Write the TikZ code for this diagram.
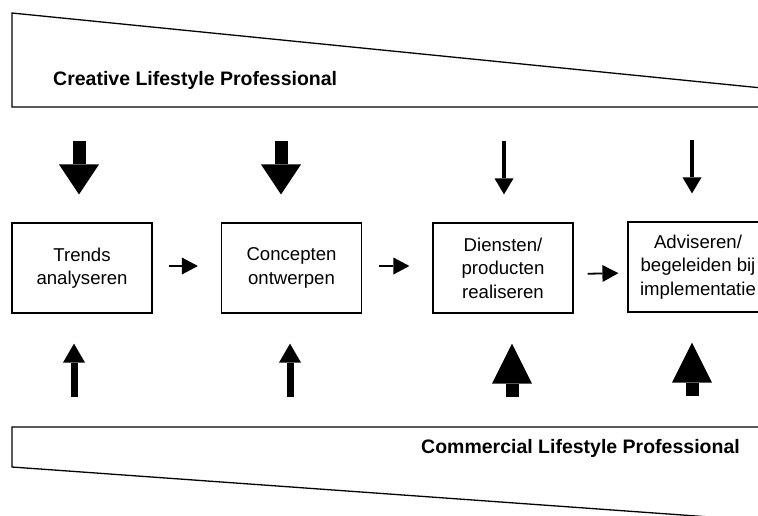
\documentclass[tikz,border=0pt]{standalone}
\usepackage{fontspec}
\setmainfont{Liberation Sans}
\usetikzlibrary{arrows.meta}

\begin{document}
\begin{tikzpicture}[x=1pt,y=-1pt,line join=miter,
    box/.style={draw,line width=1.2pt,minimum width=140pt,minimum height=90pt,inner sep=0pt,align=center,font=\fontsize{18.6}{23.5}\selectfont},
    band/.style={draw,line width=1.3pt},
    title/.style={inner sep=0pt,font=\fontsize{19.5}{22}\selectfont\bfseries},
    flow/.style={-{Triangle[length=16pt,width=17pt,line width=0pt]},line width=1.8pt},
    slim/.style={-{Triangle[length=16pt,width=19pt,line width=0pt]},line width=3.5pt},
    medium/.style={-{Triangle[length=19pt,width=22pt,line width=0pt]},line width=7pt},
    fat/.style={-{Triangle[length=#1,width=40pt,line width=0pt]},line width=13pt}]
  \clip (0,0) rectangle (758,515);

  % bands
  \draw[band] (12,13) -- (780,89.8) -- (780,107) -- (12,107) -- cycle;
  \draw[band] (12,427) -- (780,427) -- (780,522) -- (12,467) -- cycle;
  \node[title,anchor=west] (creative) at (53,80) {Creative Lifestyle Professional};
  \node[title,anchor=east] (commercial) at (740,448) {Commercial Lifestyle Professional};

  % steps
  \node[box] (trends) at (82,268) {Trends\\analyseren};
  \node[box] (concepten) at (291.5,268) {Concepten\\ontwerpen};
  \node[box] (diensten) at (503,268) {Diensten/\\producten\\realiseren};
  \node[box] (adviseren) at (698,267) {Adviseren/\\begeleiden bij\\implementatie};

  \draw[flow,shorten <=16pt,shorten >=23pt] ([yshift=2pt]trends.east) -- ([yshift=2pt]concepten.west);
  \draw[flow,shorten <=17pt,shorten >=23pt] ([yshift=2pt]concepten.east) -- ([yshift=2pt]diensten.west);
  \draw[flow,shorten <=14pt,shorten >=9pt] ([yshift=-6pt]diensten.east) -- ([yshift=-6pt]adviseren.west);

  % influence from above
  \draw[fat=30pt] ([xshift=-3pt,yshift=81pt]trends.north) -- ([xshift=-3pt,yshift=28pt]trends.north);
  \draw[fat=30pt] ([xshift=-10.5pt,yshift=81pt]concepten.north) -- ([xshift=-10.5pt,yshift=28pt]concepten.north);
  \draw[slim] ([xshift=1pt,yshift=81pt]diensten.north) -- ([xshift=1pt,yshift=28pt]diensten.north);
  \draw[slim] ([xshift=-6pt,yshift=81pt]adviseren.north) -- ([xshift=-6pt,yshift=28pt]adviseren.north);

  % influence from below
  \draw[medium] ([xshift=-8pt,yshift=-83pt]trends.south) -- ([xshift=-8pt,yshift=-30pt]trends.south);
  \draw[medium] ([xshift=-1.5pt,yshift=-83pt]concepten.south) -- ([xshift=-1.5pt,yshift=-30pt]concepten.south);
  \draw[fat=40pt] ([xshift=9pt,yshift=-83pt]diensten.south) -- ([xshift=9pt,yshift=-30pt]diensten.south);
  \draw[fat=40pt] ([xshift=-6pt,yshift=-83pt]adviseren.south) -- ([xshift=-6pt,yshift=-30pt]adviseren.south);
\end{tikzpicture}
\end{document}
